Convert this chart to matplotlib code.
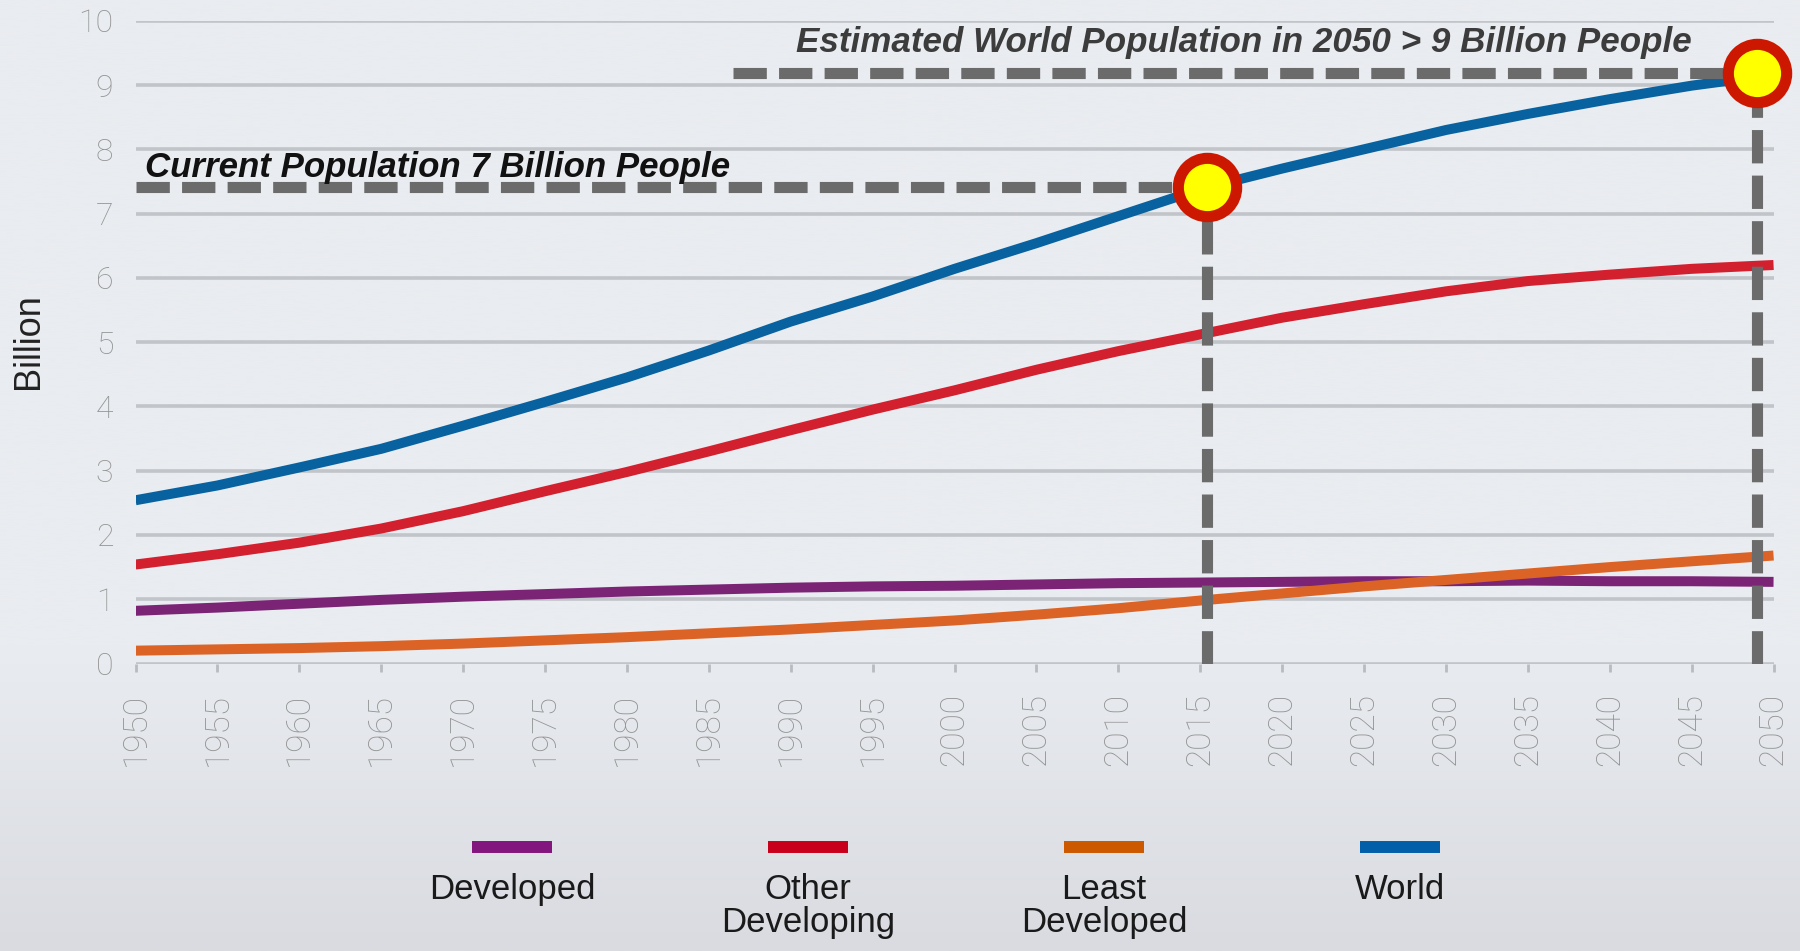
import numpy as np
import matplotlib
matplotlib.use('Agg')
import matplotlib.pyplot as plt
from matplotlib import font_manager
from matplotlib.lines import Line2D

# population in billions, every 5 years
years = list(range(1950, 2051, 5))
developed = [0.82, 0.87, 0.93, 0.99, 1.04, 1.08, 1.12, 1.15, 1.18, 1.20, 1.21,
             1.23, 1.25, 1.26, 1.27, 1.28, 1.28, 1.29, 1.28, 1.28, 1.27]
other_developing = [1.54, 1.70, 1.88, 2.10, 2.37, 2.68, 2.98, 3.30, 3.63, 3.95, 4.25,
                    4.57, 4.86, 5.12, 5.38, 5.59, 5.79, 5.95, 6.05, 6.14, 6.20]
least_developed = [0.20, 0.22, 0.24, 0.27, 0.31, 0.36, 0.41, 0.47, 0.53, 0.60, 0.67,
                   0.76, 0.86, 0.98, 1.09, 1.20, 1.30, 1.40, 1.50, 1.59, 1.68]
world = [2.54, 2.77, 3.05, 3.34, 3.70, 4.07, 4.45, 4.87, 5.32, 5.71, 6.14,
         6.54, 6.96, 7.38, 7.70, 8.00, 8.30, 8.55, 8.78, 8.99, 9.16]

names = ['Developed', 'Other\nDeveloping', 'Least\nDeveloped', 'World']
colors = ['#7b2476', '#d3202f', '#dc6326', '#0862a0']
legend_colors = ['#82157e', '#c9001c', '#cc5800', '#005fa8']

# highlighted points
now_year, now_pop = 2015.4, 7.41
future_year, future_pop = 2049.0, 9.19
future_line_start = 1986.5
now_text = 'Current Population 7 Billion People'
future_text = 'Estimated World Population in 2050 > 9 Billion People'


def has_font(name):
    try:
        font_manager.findfont(font_manager.FontProperties(family=name), fallback_to_default=False)
        return True
    except ValueError:
        return False


narrow = 'Liberation Sans Narrow' if has_font('Liberation Sans Narrow') else 'Liberation Sans'
light = 'Roboto' if has_font('Roboto') else 'Liberation Sans'

fig = plt.figure(figsize=(18, 9.51), dpi=100)

# background with a soft gradient towards the bottom
bg = fig.add_axes([0, 0, 1, 1], zorder=-10)
top = np.array([0xe9, 0xec, 0xf0]) / 255
bottom = np.array([0xd9, 0xdb, 0xe0]) / 255
t = np.linspace(0, 1, 400)
mix = np.clip((t - 0.68) / 0.32, 0, 1)[:, None]
grad = (top * (1 - mix) + bottom * mix)[:, None, :]
bg.imshow(grad, aspect='auto', extent=[0, 1, 0, 1])
bg.axis('off')

ax = fig.add_axes([0.0753, 0.3023, 0.91, 0.6759])
ax.set_facecolor('none')

series = [developed, other_developing, least_developed, world]
for vals, c in zip(series, colors):
    ax.plot(years, vals, color=c, lw=7.2, solid_capstyle='butt', solid_joinstyle='round', zorder=3)

dash_kw = dict(color='#6b6b6b', lw=8, dashes=(3, 1.1), zorder=4)
ax.plot([1950, now_year], [now_pop, now_pop], **dash_kw)
ax.plot([now_year, now_year], [0, now_pop], **dash_kw)
ax.plot([future_line_start, future_year], [future_pop, future_pop], **dash_kw)
ax.plot([future_year, future_year], [0, future_pop], **dash_kw)

ax.plot([now_year, future_year], [now_pop, future_pop], 'o', ms=42,
        mfc='#ffff00', mec='#cc1800', mew=8, zorder=6, clip_on=False)

t1 = ax.text(1950.6, 7.57, now_text, fontsize=31, fontweight='bold', fontstyle='italic',
             family=narrow, color='#111111', va='baseline', ha='left', zorder=5)
t2 = ax.text(1990.3, 9.51, future_text, fontsize=30, fontweight='bold', fontstyle='italic',
             family=narrow, color='#3c3c3c', va='baseline', ha='left', zorder=5)

ax.set_xlim(1950, 2050)
ax.set_ylim(0, 10)
ax.set_xticks(years)
ax.set_yticks(range(0, 11))
ax.set_xticklabels([str(y) for y in years], rotation=90, family=light, fontweight='light')
ax.set_yticklabels([str(v) for v in range(0, 11)], family=light, fontweight='light')
ax.tick_params(axis='x', length=6, width=2, color='#b8bcc0', pad=15,
               labelsize=24, labelcolor='#939393')
ax.tick_params(axis='y', length=0, pad=16, labelsize=23, labelcolor='#939393')
ax.grid(axis='y', color='#c1c5c9', lw=2.6)
ax.set_axisbelow(True)
for s in ax.spines.values():
    s.set_visible(False)

fig.text(0.016, 0.641, 'Billion', rotation=90, fontsize=26, family='Liberation Sans',
         color='#222222', ha='center', va='center')

# legend: short bar with the label underneath
legend_x = [0.2844, 0.449, 0.6133, 0.7778]
for x, c, name in zip(legend_x, legend_colors, names):
    fig.add_artist(Line2D([x - 0.0222, x + 0.0222], [0.109, 0.109], color=c, lw=8.6,
                          solid_capstyle='butt'))
    fig.text(x, 0.082, name, fontsize=25, family='Liberation Sans', color='#1a1a1a',
             ha='center', va='top', linespacing=1.0, multialignment='center')

# fit the annotation widths to the original
fig.canvas.draw()
renderer = fig.canvas.get_renderer()
for txt, target in [(t1, 585), (t2, 895)]:
    w = txt.get_window_extent(renderer).width
    txt.set_fontsize(txt.get_fontsize() * target / w)

fig.savefig('out.png', dpi=100)
